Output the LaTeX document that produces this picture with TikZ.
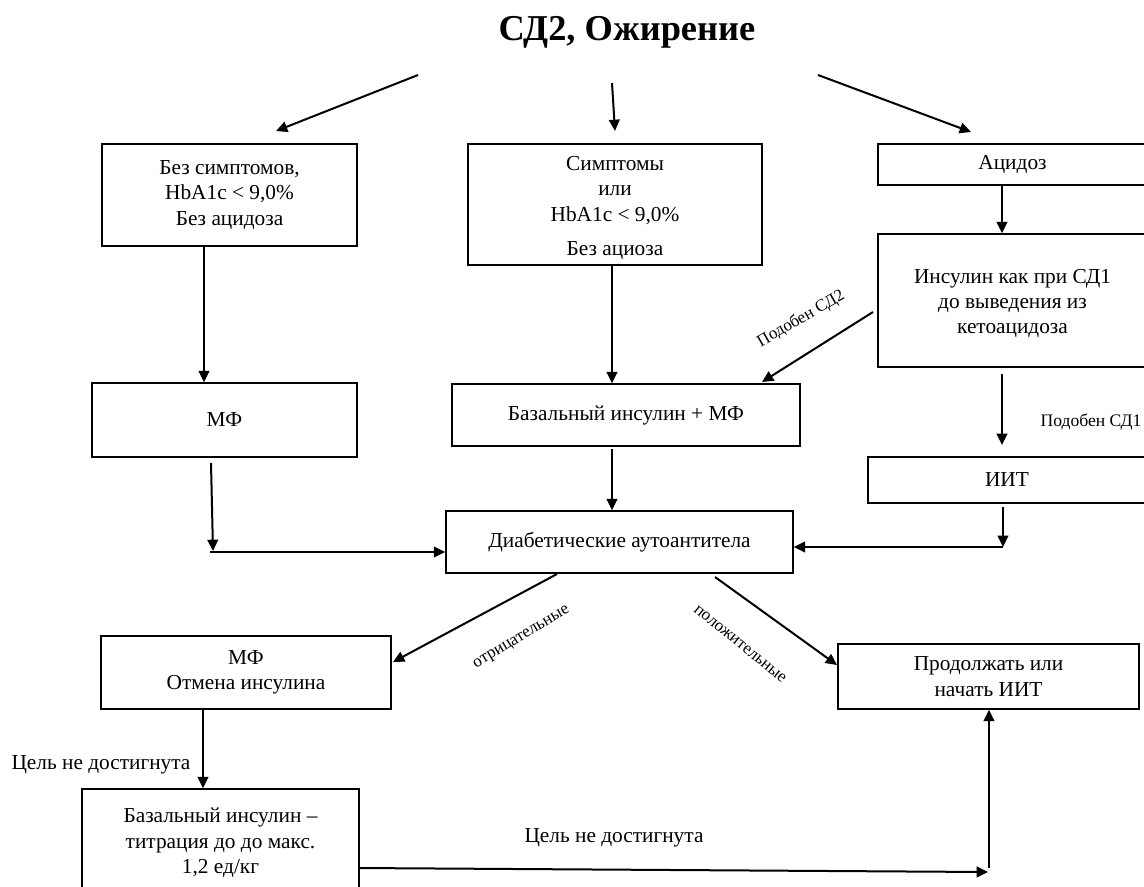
\documentclass[tikz,border=0pt]{standalone}
\usepackage{fontspec}
\setmainfont{Liberation Serif}
\usetikzlibrary{arrows.meta}
\begin{document}
\begin{tikzpicture}[x=0.75pt,y=-0.75pt,
  box/.style={draw,line width=1.1pt,align=center,inner sep=0pt,font=\fontsize{16}{19}\selectfont},
  arr/.style={line width=1.5pt,-{Triangle[length=8.5pt,width=8pt]}},
  lab/.style={font=\fontsize{12.8}{15}\selectfont,inner sep=0pt},
  txt/.style={font=\fontsize{16}{19}\selectfont,inner sep=0pt}]
\useasboundingbox (0,0) rectangle (1144,886);

% title
\node[anchor=base,inner sep=0pt,font=\bfseries\fontsize{27.3}{33}\selectfont] (title) at (627,40) {СД2, Ожирение};

% boxes
\node[box,minimum width=191.25pt,minimum height=76.5pt] (A) at (229.5,195) {Без симптомов,\\HbA1c < 9,0\%\\Без ацидоза};
\node[box,minimum width=220.5pt,minimum height=90.75pt] (B) at (615,204.5) {\rule{0pt}{16pt}Симптомы\\или\\HbA1c < 9,0\%\\[7pt]Без ациоза};
\node[box,minimum width=201.75pt,minimum height=30.75pt] (C) at (1012.5,164.5) {Ацидоз};
\node[box,minimum width=201.75pt,minimum height=99.75pt] (D) at (1012.5,300.5) {\rule{0pt}{15pt}Инсулин как при СД1\\до выведения из\\кетоацидоза};
\node[box,minimum width=198.75pt,minimum height=55.5pt] (MF) at (224.5,420) {МФ};
\node[box,minimum width=261pt,minimum height=46.5pt] (BMF) at (626,415) {Базальный инсулин + МФ};
\node[box,minimum width=208.5pt,minimum height=34.5pt] (IIT) at (1007,480) {ИИТ};
\node[box,minimum width=260.25pt,minimum height=46.5pt] (DA) at (619.5,542) {Диабетические аутоантитела};
\node[box,minimum width=217.5pt,minimum height=54.75pt] (MFO) at (246,672.5) {МФ\\Отмена инсулина};
\node[box,minimum width=225.75pt,minimum height=48.75pt] (PR) at (988.5,676.5) {Продолжать или\\начать ИИТ};
\node[box,minimum width=207.75pt,minimum height=81pt] (BT) at (220.5,843) {Базальный инсулин –\\титрация до до макс.\\1,2 ед/кг};

% top arrows
\coordinate (t1s) at (418,75); \coordinate (t1e) at (276,131);
\coordinate (t2s) at (612,83); \coordinate (t2e) at (615,131);
\coordinate (t3s) at (818,75); \coordinate (t3e) at (971,132);
\draw[arr] (t1s) -- (t1e);
\draw[arr] (t2s) -- (t2e);
\draw[arr] (t3s) -- (t3e);

% left column
\coordinate (xa) at (204,0);
\draw[arr] (A.south -| xa) -- (MF.north -| xa);
\coordinate (m1) at (211,463); \coordinate (m2) at (213,551);
\draw[arr] (m1) -- (m2);
\coordinate (m3) at (210,552);
\draw[arr] (m3) -- (DA.west |- m3);

% middle column
\coordinate (xb) at (612,0);
\draw[arr] (B.south -| xb) -- (BMF.north -| xb);
\coordinate (bm1) at (612,449);
\draw[arr] (bm1) -- (DA.north -| xb);

% right column
\coordinate (xc) at (1002,0);
\draw[arr] (C.south -| xc) -- (D.north -| xc);
\coordinate (r1) at (1002,374); \coordinate (r2) at (1002,445);
\draw[arr] (r1) -- (r2);
\node[anchor=center,font=\fontsize{13.2}{15}\selectfont,inner sep=0pt] (l1) at (1091,422) {Подобен СД1};
\coordinate (r3) at (1003,507); \coordinate (r4) at (1003,547);
\draw[arr] (r3) -- (r4);
\draw[arr] (r4) -- (DA.east |- r4);

% like DM2
\coordinate (s1) at (873,312); \coordinate (s2) at (762,382);
\draw[arr] (s1) -- (s2);
\node[lab,rotate=30] (l2) at (801,319) {Подобен СД2};

% autoantibodies branches
\coordinate (n1) at (557,574); \coordinate (n2) at (393,662);
\draw[arr] (n1) -- (n2);
\node[lab,rotate=31] (l3) at (522,638) {отрицательные};
\coordinate (p1) at (715,577); \coordinate (p2) at (837,665);
\draw[arr] (p1) -- (p2);
\node[lab,rotate=-39] (l4) at (740,644) {положительные};

% bottom
\coordinate (xd) at (203,0);
\draw[arr] (MFO.south -| xd) -- (BT.north -| xd);
\node[txt] (l5) at (101,765) {Цель не достигнута};
\coordinate (b1) at (359,868); \coordinate (b2) at (988,872);
\draw[arr] (b1) -- (b2);
\coordinate (b3) at (989,868);
\draw[arr] (b3) -- (PR.south -| b3);
\node[txt] (l6) at (614,838) {Цель не достигнута};
\end{tikzpicture}
\end{document}
